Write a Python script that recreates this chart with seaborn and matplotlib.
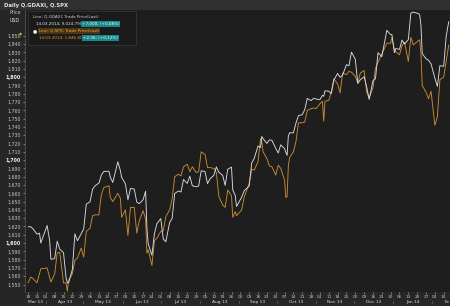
import matplotlib
matplotlib.use("Agg")
import matplotlib.pyplot as plt
import matplotlib.dates as mdates
from matplotlib.patches import Rectangle
import pandas as pd
import seaborn as sns

# ---------------- data ----------------
dates = [
    "2013-03-18", "2013-03-20", "2013-03-22", "2013-03-25", "2013-03-27", "2013-03-28",
    "2013-04-02", "2013-04-04", "2013-04-05", "2013-04-08", "2013-04-10", "2013-04-12",
    "2013-04-15", "2013-04-17", "2013-04-18", "2013-04-19", "2013-04-22", "2013-04-24",
    "2013-04-26", "2013-04-29", "2013-05-01", "2013-05-03", "2013-05-06", "2013-05-08",
    "2013-05-10", "2013-05-13", "2013-05-15", "2013-05-17", "2013-05-21", "2013-05-22",
    "2013-05-24", "2013-05-28", "2013-05-30", "2013-05-31", "2013-06-03", "2013-06-05",
    "2013-06-07", "2013-06-10", "2013-06-12", "2013-06-14", "2013-06-17", "2013-06-19",
    "2013-06-20", "2013-06-21", "2013-06-24", "2013-06-26", "2013-06-28", "2013-07-01",
    "2013-07-03", "2013-07-05", "2013-07-08", "2013-07-10", "2013-07-12", "2013-07-15",
    "2013-07-17", "2013-07-19", "2013-07-22", "2013-07-24", "2013-07-26", "2013-07-29",
    "2013-07-31", "2013-08-02", "2013-08-05", "2013-08-07", "2013-08-09", "2013-08-12",
    "2013-08-14", "2013-08-16", "2013-08-19", "2013-08-21", "2013-08-23", "2013-08-26",
    "2013-08-27", "2013-08-29", "2013-08-30", "2013-09-03", "2013-09-05", "2013-09-09",
    "2013-09-11", "2013-09-13", "2013-09-16", "2013-09-18", "2013-09-19", "2013-09-20",
    "2013-09-23", "2013-09-25", "2013-09-27", "2013-09-30", "2013-10-02", "2013-10-04",
    "2013-10-07", "2013-10-08", "2013-10-09", "2013-10-10", "2013-10-11", "2013-10-14",
    "2013-10-16", "2013-10-18", "2013-10-21", "2013-10-23", "2013-10-25", "2013-10-28",
    "2013-10-30", "2013-11-01", "2013-11-04", "2013-11-06", "2013-11-07", "2013-11-08",
    "2013-11-11", "2013-11-13", "2013-11-15", "2013-11-18", "2013-11-20", "2013-11-22",
    "2013-11-25", "2013-11-27", "2013-11-29", "2013-12-02", "2013-12-04", "2013-12-06",
    "2013-12-09", "2013-12-11", "2013-12-13", "2013-12-16", "2013-12-18", "2013-12-20",
    "2013-12-23", "2013-12-27", "2013-12-30", "2013-12-31", "2014-01-02", "2014-01-03",
    "2014-01-06", "2014-01-08", "2014-01-10", "2014-01-13", "2014-01-15", "2014-01-17",
    "2014-01-21", "2014-01-22", "2014-01-23", "2014-01-24", "2014-01-27", "2014-01-29",
    "2014-01-31", "2014-02-03", "2014-02-05", "2014-02-07", "2014-02-10", "2014-02-12",
    "2014-02-14",
]

spx = [
    1552, 1559, 1557, 1552, 1563, 1569, 1570, 1559, 1553, 1563, 1588, 1589,
    1552, 1552, 1542, 1555, 1563, 1579, 1582, 1594, 1583, 1614, 1618, 1633,
    1634, 1634, 1659, 1667, 1669, 1655, 1650, 1660, 1654, 1631, 1640, 1609,
    1643, 1643, 1612, 1627, 1639, 1629, 1588, 1592, 1573, 1603, 1606, 1614,
    1615, 1632, 1640, 1653, 1680, 1683, 1681, 1692, 1695, 1686, 1692, 1685,
    1686, 1710, 1707, 1691, 1691, 1690, 1685, 1656, 1646, 1643, 1664, 1657,
    1631, 1638, 1633, 1640, 1655, 1672, 1689, 1688, 1698, 1726, 1722, 1710,
    1702, 1693, 1692, 1682, 1694, 1690, 1676, 1655, 1656, 1693, 1703, 1710,
    1722, 1745, 1745, 1746, 1760, 1762, 1763, 1762, 1768, 1771, 1747, 1771,
    1772, 1782, 1798, 1792, 1781, 1805, 1803, 1807, 1806, 1801, 1793, 1805,
    1808, 1782, 1775, 1787, 1811, 1818, 1828, 1841, 1841, 1848, 1832, 1831,
    1827, 1838, 1842, 1819, 1848, 1839, 1844, 1845, 1829, 1790, 1782, 1774,
    1783, 1742, 1752, 1797, 1800, 1819, 1839,
]

dax = [
    7931, 7933, 7913, 7870, 7878, 7795, 7943, 7817, 7658, 7663, 7810, 7744,
    7713, 7503, 7460, 7459, 7573, 7872, 7814, 7874, 7914, 8122, 8143, 8249,
    8278, 8300, 8369, 8399, 8400, 8351, 8306, 8480, 8407, 8349, 8295, 8160,
    8255, 8250, 8140, 8127, 8161, 8232, 7928, 7790, 7692, 7876, 7959, 8001,
    7829, 7806, 7968, 8002, 8212, 8234, 8225, 8331, 8298, 8359, 8277, 8270,
    8276, 8404, 8398, 8296, 8337, 8366, 8437, 8391, 8366, 8281, 8417, 8435,
    8242, 8195, 8103, 8180, 8235, 8276, 8469, 8509, 8613, 8600, 8694, 8675,
    8635, 8665, 8661, 8594, 8554, 8623, 8591, 8560, 8534, 8697, 8725, 8724,
    8806, 8869, 8877, 8920, 9014, 8996, 9016, 9009, 9004, 9040, 9033, 9078,
    9076, 9055, 9168, 9225, 9193, 9212, 9299, 9290, 9405, 9345, 9140, 9172,
    9197, 9113, 9006, 9164, 9181, 9400, 9366, 9589, 9552, 9552, 9400, 9435,
    9428, 9506, 9473, 9510, 9734, 9742, 9730, 9720, 9631, 9392, 9349, 9336,
    9306, 9186, 9116, 9291, 9285, 9540, 9662,
]

y_ticks = list(range(1550, 1860, 10))
month_labels = ["Mar 13", "Apr 13", "May 13", "Jun 13", "Jul 13", "Aug 13",
                "Sep 13", "Oct 13", "Nov 13", "Dec 13", "Jan 14", "Fe"]

# ---------------- styling ----------------
sns.set_theme(style="dark")
plt.rcParams["font.family"] = ["DejaVu Sans"]

W, H = 450, 306
FIG_BG = "#262626"
PLOT_BG = "#1e1e1e"
ORANGE = "#c98a34"
WHITE = "#d9dae3"
TXT = "#c4c4c4"


def fx(x):
    return x / W


def fy(y):
    return 1 - y / H


fig = plt.figure(figsize=(W / 100, H / 100), dpi=100, facecolor=FIG_BG)

# title bar
fig.patches.append(Rectangle((0, fy(10)), 1, 10 / H, transform=fig.transFigure,
                             facecolor="#303030", edgecolor="none", zorder=0))
fig.text(fx(4), fy(5), "Daily Q.GDAXI, Q.SPX", color="#e6e6e6", fontsize=3.8,
         fontweight="bold", va="center", ha="left")

ax = fig.add_axes([fx(25), fy(292), (W - 25) / W, (292 - 10) / H])
ax.set_facecolor(PLOT_BG)

df = pd.DataFrame({"date": pd.to_datetime(dates), "spx": spx, "dax": dax})

sns.lineplot(data=df, x="date", y="spx", ax=ax, color=ORANGE, linewidth=0.65)
ax2 = ax.twinx()
sns.lineplot(data=df, x="date", y="dax", ax=ax2, color=WHITE, linewidth=0.65)

ax.set_ylim(1541, 1881)
ax2.set_ylim(7382, 9760)
ax.set_xlim(pd.Timestamp("2013-03-15 12:00"), pd.Timestamp("2014-02-15"))

for a in (ax, ax2):
    a.set_xlabel("")
    a.set_ylabel("")
    a.grid(False)
    for s in a.spines.values():
        s.set_visible(False)
ax.spines["left"].set_visible(True)
ax.spines["left"].set_color("#555555")
ax.spines["left"].set_linewidth(0.6)
ax2.set_yticks([])

# y ticks
ax.set_yticks(y_ticks)
ax.set_yticklabels([f"{v:,}" for v in y_ticks])
ax.tick_params(axis="y", labelsize=3.4, colors=TXT, length=1.5, width=0.4, pad=1.5,
               left=True)
for lab, v in zip(ax.get_yticklabels(), y_ticks):
    if v % 100 == 0:
        lab.set_fontweight("bold")
        lab.set_color("#eeeeee")

fig.text(fx(15), fy(13), "Price", color=TXT, fontsize=3.4, ha="center", va="center")
fig.text(fx(15), fy(20), "USD", color="#eeeeee", fontsize=3.4, ha="center", va="center")

# x ticks: weekly day numbers
ax.xaxis.set_major_locator(mdates.WeekdayLocator(byweekday=mdates.MO))
ax.xaxis.set_major_formatter(mdates.DateFormatter("%d"))
ax.tick_params(axis="x", labelsize=3.1, colors=TXT, length=1.5, width=0.4, pad=0.8,
               bottom=True)

# month labels and separators
xt = ax.get_xaxis_transform()
month_starts = pd.date_range("2013-04-01", "2014-02-01", freq="MS")
left_lim = pd.Timestamp("2013-03-15 12:00")
right_lim = pd.Timestamp("2014-02-15")
bounds = [left_lim] + list(month_starts) + [right_lim]
for i, lab in enumerate(month_labels):
    a0, a1 = bounds[i], bounds[i + 1]
    mid = a0 + (a1 - a0) / 2
    if i == len(month_labels) - 1:
        mid = right_lim - pd.Timedelta(days=2)
    ax.text(mid, -0.036, lab, transform=xt, ha="center", va="center",
            fontsize=3.2, color="#dddddd", clip_on=False)
for ms in month_starts:
    ax.text(ms, -0.036, "|", transform=xt, ha="center", va="center",
            fontsize=3.2, color="#888888", clip_on=False)

# last value tag for SPX on the axis
fig.text(fx(21), fy(35), "\u25c6", color="#d9a322", fontsize=3, ha="center", va="center")

# legend box
fig.patches.append(Rectangle((fx(28), fy(45)), (136 - 28) / W, (45 - 11) / H,
                             transform=fig.transFigure, facecolor="#1a1a1a",
                             edgecolor="#3a3a3a", linewidth=0.5, zorder=5))
fs = 3.0
fig.text(fx(33), fy(17), "Line; Q.GDAXI; Trade Price(Last)", color="#cfcfcf",
         fontsize=fs, va="center", zorder=6)
fig.text(fx(36), fy(24), "14.03.2014; 9,024.790;", color="#e2e2e2",
         fontsize=fs, va="center", zorder=6)
fig.text(fx(82), fy(24), "+7,000; (+0,08%)", color="#ffffff", fontsize=fs,
         va="center", zorder=6,
         bbox=dict(boxstyle="square,pad=0.15", facecolor="#14898b", edgecolor="none"))
fig.text(fx(35), fy(31), "\u25cf", color="#eeeeee", fontsize=3.6, va="center",
         ha="center", zorder=6)
fig.text(fx(39), fy(31), "Line; Q.SPX; Trade Price(Last)", color="#f0a64a",
         fontsize=fs, va="center", zorder=6,
         bbox=dict(boxstyle="square,pad=0.15", facecolor="#4a3514", edgecolor="none"))
fig.text(fx(39), fy(38), "14.03.2014; 1,846.80;", color="#e39b3a",
         fontsize=fs, va="center", zorder=6)
fig.text(fx(83), fy(38), "+2,36; (+0,12%)", color="#ffffff", fontsize=fs,
         va="center", zorder=6,
         bbox=dict(boxstyle="square,pad=0.15", facecolor="#14898b", edgecolor="none"))

fig.savefig("out.png", dpi=100, facecolor=FIG_BG)
